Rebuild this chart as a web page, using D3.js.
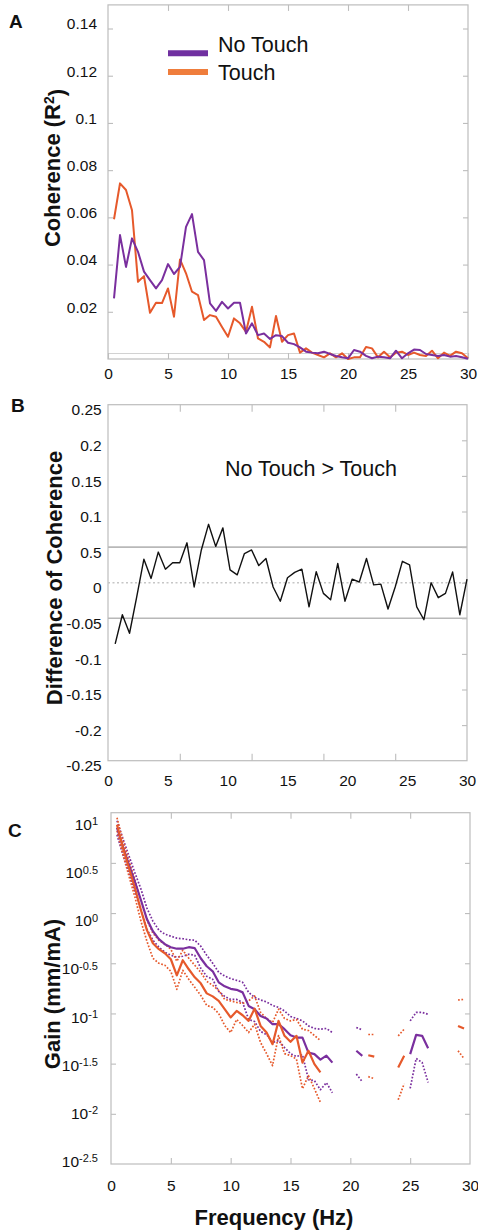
<!DOCTYPE html>
<html>
<head>
<meta charset="utf-8">
<script src="https://cdn.jsdelivr.net/npm/d3@7"></script>
<style>
  body { margin: 0; background: #fff; }
  text { font-family: "Liberation Sans", Arial, Helvetica, sans-serif; fill: #111; }
</style>
</head>
<body>
<svg id="fig" width="478" height="1232"></svg>
<script>
// ---------- data ----------
// Frequency grid (Hz) shared by coherence (A) and gain (C)
const freqHz = [0.5,1,1.5,2,2.5,3,3.5,4,4.5,5,5.5,6,6.5,7,7.5,8,8.5,9,9.5,10,
  10.5,11,11.5,12,12.5,13,13.5,14,14.5,15,15.5,16,16.5,17,17.5,18,18.5,19,19.5,20,
  20.5,21,21.5,22,22.5,23,23.5,24,24.5,25,25.5,26,26.5,27,27.5,28,28.5,29,29.5,30];

// A: coherence (R^2)
const cohNoTouch = [0.0257,0.0525,0.039,0.0511,0.0454,0.037,0.0334,0.0299,0.0334,0.0402,
  0.036,0.039,0.056,0.0614,0.0454,0.0419,0.0236,0.0204,0.0242,0.0214,
  0.0238,0.0238,0.0108,0.0151,0.0101,0.0108,0.0085,0.0101,0.0097,0.0069,
  0.0063,0.0049,0.0031,0.0027,0.0024,0.0031,0.0021,0.0013,0.0007,0.0003,
  0.0038,0.0031,0.0013,0.0003,0.001,0.0007,0.0003,0.0035,0.0003,0.0024,
  0.004,0.0038,0.0021,0.0017,0.0013,0.0017,0.001,0.0013,0.0007,0.0001];
const cohTouch = [0.0592,0.0744,0.0716,0.063,0.0327,0.0351,0.0196,0.0238,0.0237,0.0299,
  0.0179,0.0422,0.0363,0.0285,0.0271,0.0165,0.0186,0.0179,0.0136,0.0094,
  0.0172,0.0151,0.0115,0.0221,0.0087,0.0073,0.0049,0.0182,0.0073,0.0101,
  0.0108,0.0027,0.0045,0.0027,0.0017,0.0007,0.0024,0.0007,0.0024,0.0000,
  0.0007,0.0007,0.0051,0.0045,0.0007,0.0031,0.0007,0.0027,0.0031,0.0017,
  0.0027,0.0017,0.0013,0.0035,0.0003,0.0027,0.0013,0.0031,0.0024,0.0003];
const cohTicks = [0.02,0.04,0.06,0.08,0.1,0.12,0.14];
const freqTicks = [0,5,10,15,20,25,30];

// B: difference of coherence (No Touch - Touch)
const freqDiff = [0.6,1.2,1.8,2.4,3,3.6,4.2,4.8,5.4,6,6.6,7.2,7.8,8.4,9,9.6,10.2,10.8,11.4,12,
  12.6,13.2,13.8,14.4,15,15.6,16.2,16.8,17.4,18,18.6,19.2,19.8,20.4,21,21.6,22.2,22.8,23.4,24,
  24.6,25.2,25.8,26.4,27,27.6,28.2,28.8,29.4,30];
const cohDiff = [-0.086,-0.045,-0.071,-0.02,0.033,0.006,0.043,0.019,0.028,0.028,
  0.056,-0.006,0.046,0.082,0.051,0.077,0.018,0.011,0.041,0.046,
  0.024,0.034,-0.006,-0.026,0.007,0.0145,0.019,-0.034,0.0155,-0.015,
  -0.024,0.027,-0.026,0.005,0.001,0.034,-0.003,-0.002,-0.037,-0.006,
  0.030,0.025,-0.034,-0.052,0.000,-0.021,-0.015,0.015,-0.045,0.005];
const diffTickValues = [0.25,0.2,0.15,0.1,0.05,0,-0.05,-0.1,-0.15,-0.2,-0.25];
const diffTickLabels = ["0.25","0.2","0.15","0.1","0.5","0","-0.05","-0.1","-0.15","-0.2","-0.25"];
const diffFreqMarks = [6,12,18,24];
const diffBand = [-0.05,0.05];

// C: gain, log10(mm/mA); mean with upper/lower bounds, null = no estimate
const noTouchGain = [0.85,0.66,0.48,0.31,0.13,-0.06,-0.18,-0.26,-0.31,-0.34,
  -0.355,-0.355,-0.34,-0.35,-0.45,-0.53,-0.58,-0.69,-0.73,-0.755,
  -0.765,-0.79,-0.925,-0.958,-1.025,-1.05,-1.107,-1.107,-1.157,-1.217,
  -1.24,-1.24,-1.39,-1.405,-1.46,-1.42,-1.49,null,null,null,
  -1.372,-1.422,null,null,null,null,null,null,null,-1.406,
  -1.213,-1.223,-1.346,null,null,null,null,null,null,null];
const noTouchUpper = [0.92,0.74,0.57,0.40,0.24,0.05,-0.08,-0.17,-0.21,-0.23,
  -0.25,-0.256,-0.266,-0.27,-0.33,-0.42,-0.50,-0.59,-0.627,-0.653,
  -0.67,-0.69,-0.79,-0.84,-0.866,-0.885,-0.92,-0.94,-0.975,-1.03,
  -1.05,-1.074,-1.124,-1.15,-1.157,-1.15,-1.19,null,null,null,
  -1.14,-1.164,null,null,null,null,null,null,null,-1.074,
  -0.99,-0.99,-1.008,null,null,null,null,null,null,null];
const noTouchLower = [0.78,0.58,0.40,0.22,0.03,-0.16,-0.27,-0.34,-0.39,-0.42,
  -0.44,-0.43,-0.41,-0.42,-0.55,-0.63,-0.66,-0.78,-0.83,-0.86,
  -0.86,-0.89,-1.06,-1.08,-1.18,-1.21,-1.29,-1.27,-1.34,-1.40,
  -1.43,-1.41,-1.66,-1.67,-1.76,-1.69,-1.79,null,null,null,
  -1.604,-1.68,null,null,null,null,null,null,null,-1.747,
  -1.449,-1.488,-1.687,null,null,null,null,null,null,null];
const touchGain = [0.88,0.65,0.45,0.25,0.03,-0.17,-0.30,-0.36,-0.40,-0.46,
  -0.62,-0.47,-0.56,-0.64,-0.70,-0.80,-0.83,-0.875,-0.958,-1.04,
  -0.975,-1.018,-1.074,-0.952,-1.124,-1.19,-1.306,-1.074,-1.223,-1.283,
  -1.223,-1.49,-1.372,-1.505,-1.587,null,null,null,null,null,
  null,null,-1.416,-1.43,null,null,null,-1.538,-1.422,null,
  null,null,null,null,null,null,null,-1.124,-1.15,null];
const touchUpper = [0.95,0.72,0.52,0.33,0.12,-0.07,-0.20,-0.27,-0.31,-0.36,
  -0.48,-0.37,-0.45,-0.52,-0.59,-0.68,-0.72,-0.77,-0.86,-0.875,
  -0.89,-0.90,-0.875,-0.826,-0.99,-1.05,-1.09,-0.958,-1.05,-1.074,
  -1.06,-1.157,-1.17,-1.22,-1.27,null,null,null,null,null,
  null,null,-1.21,-1.21,null,null,null,-1.223,-1.157,null,
  null,null,null,null,null,null,null,-0.866,-0.86,null];
const touchLower = [0.82,0.58,0.37,0.16,-0.08,-0.28,-0.45,-0.50,-0.52,-0.58,
  -0.76,-0.57,-0.66,-0.74,-0.82,-0.92,-0.94,-1.0,-1.12,-1.19,
  -1.06,-1.12,-1.19,-1.107,-1.29,-1.40,-1.52,-1.22,-1.40,-1.42,
  -1.455,-1.75,-1.62,-1.75,-1.886,null,null,null,null,null,
  null,null,-1.63,-1.65,null,null,null,-1.86,-1.70,null,
  null,null,null,null,null,null,null,-1.372,-1.449,null];
const gainExpTicks = [1,0.5,0,-0.5,-1,-1.5,-2,-2.5];
const gainExpLabels = ["1","0.5","0","-0.5","-1","-1.5","-2","-2.5"];

// ---------- styles ----------
const PURPLE = "#7a2f9e", ORANGE = "#e6592b";
const LEG_PURPLE = "#7030a0", LEG_ORANGE = "#ef7d3c";
const FRAME = "#bdbdbd";
const TICK_FONT = "15.5px", TITLE_FONT = "22px";

const svg = d3.select("#fig");

function drawFrame(x, y) {
  const [x0, x1] = x.range(), [y0, y1] = y.range();
  svg.append("rect")
    .attr("x", x0).attr("y", y1).attr("width", x1 - x0).attr("height", y0 - y1)
    .attr("fill", "none").attr("stroke", FRAME).attr("stroke-width", 1.2);
}
function styleAxis(g) {
  g.select(".domain").remove();
  g.selectAll(".tick line").attr("stroke", FRAME).attr("stroke-width", 1.1);
  g.selectAll(".tick text").attr("fill", "#111").style("font-size", TICK_FONT)
    .style("font-family", '"Liberation Sans", Arial, sans-serif');
}
function panelLetter(label, x, y) {
  svg.append("text").attr("x", x).attr("y", y).text(label)
    .style("font-size", "19px").style("font-weight", "bold");
}
function yTitle(x, y, build) {
  const t = svg.append("text").attr("transform", `translate(${x},${y}) rotate(-90)`)
    .attr("text-anchor", "middle").style("font-size", TITLE_FONT).style("font-weight", "bold");
  build(t);
}

// ---------- A: coherence ----------
const xA = d3.scaleLinear().domain([0, 30]).range([108, 468]);
const yA = d3.scaleLinear().domain([0, 0.15]).range([359, 4.9]);
drawFrame(xA, yA);

// faint floor line along the inner edge of the bottom ticks
svg.append("line").attr("x1", xA(0)).attr("x2", xA(30))
  .attr("y1", yA(0) - 5.5).attr("y2", yA(0) - 5.5)
  .attr("stroke", "#d2d2d2").attr("stroke-width", 1);

svg.append("g").attr("transform", `translate(${xA(0)},0)`)
  .call(d3.axisLeft(yA).tickValues(cohTicks).tickSize(-5).tickPadding(11).tickFormat(d3.format("~g")))
  .call(styleAxis).call(g => g.selectAll(".tick text").attr("dy", "0.02em"));
svg.append("g").attr("transform", `translate(${xA(30)},0)`)
  .call(d3.axisRight(yA).tickValues(cohTicks).tickSize(-5).tickFormat(""))
  .call(styleAxis);
svg.append("g").attr("transform", `translate(0,${yA(0.15)})`)
  .call(d3.axisTop(xA).tickValues(freqTicks.slice(1, -1)).tickSize(-6).tickFormat(""))
  .call(styleAxis);
svg.append("g").attr("transform", `translate(0,${yA(0)})`)
  .call(d3.axisBottom(xA).tickValues(freqTicks).tickSize(-6).tickPadding(9).tickFormat(d3.format("d")))
  .call(styleAxis);

const lineA = d3.line().x((d, i) => xA(freqHz[i])).y(d => yA(d));
svg.append("path").datum(cohTouch).attr("d", lineA)
  .attr("fill", "none").attr("stroke", ORANGE).attr("stroke-width", 2).attr("stroke-linejoin", "round");
svg.append("path").datum(cohNoTouch).attr("d", lineA)
  .attr("fill", "none").attr("stroke", PURPLE).attr("stroke-width", 2).attr("stroke-linejoin", "round");

// legend
const legend = [
  { name: "No Touch", color: LEG_PURPLE, sy: 53.3, ty: 51.7 },
  { name: "Touch", color: LEG_ORANGE, sy: 72, ty: 79.5 }
];
const lg = svg.append("g");
lg.selectAll("line").data(legend).join("line")
  .attr("x1", 168).attr("x2", 208).attr("y1", d => d.sy).attr("y2", d => d.sy)
  .attr("stroke", d => d.color).attr("stroke-width", 6);
lg.selectAll("text").data(legend).join("text")
  .attr("x", 218).attr("y", d => d.ty).text(d => d.name).style("font-size", "21.5px");

panelLetter("A", 9, 28);
yTitle(60, 168, t => {
  t.append("tspan").text("Coherence (R");
  t.append("tspan").text("2").attr("dy", "-0.45em").style("font-size", "14px");
  t.append("tspan").text(")").attr("dy", "0.45em");
});

// ---------- B: difference of coherence ----------
const xB = d3.scaleLinear().domain([0, 30]).range([108, 467]);
const yB = d3.scaleLinear().domain([-0.25, 0.25]).range([760.7, 404.7]);
drawFrame(xB, yB);

svg.append("g").selectAll("line").data(diffBand).join("line")
  .attr("x1", xB(0)).attr("x2", xB(30)).attr("y1", d => yB(d)).attr("y2", d => yB(d))
  .attr("stroke", "#b8b8b8").attr("stroke-width", 1.6);
svg.append("line").attr("x1", xB(0)).attr("x2", xB(30)).attr("y1", yB(0)).attr("y2", yB(0))
  .attr("stroke", "#c6c6c6").attr("stroke-width", 1.6).attr("stroke-dasharray", "2,2.5");

svg.append("g").attr("transform", `translate(${xB(0)},0)`)
  .call(d3.axisLeft(yB).tickValues(diffTickValues).tickSize(0).tickPadding(6.3)
    .tickFormat((d, i) => diffTickLabels[i]))
  .call(styleAxis).call(g => g.selectAll(".tick text").attr("dy", "0.66em"));
svg.append("g").attr("transform", `translate(${xB(30)},0)`)
  .call(d3.axisRight(yB).tickValues(diffTickValues.slice(1, -1)).tickSize(-5).tickFormat(""))
  .call(styleAxis);
svg.append("g").attr("transform", `translate(0,${yB(0.25)})`)
  .call(d3.axisTop(xB).tickValues(diffFreqMarks).tickSize(-7).tickFormat(""))
  .call(styleAxis);
svg.append("g").attr("transform", `translate(0,${yB(-0.25)})`)
  .call(d3.axisBottom(xB).tickValues(diffFreqMarks).tickSize(-7).tickFormat(""))
  .call(styleAxis);
svg.append("g").attr("transform", `translate(0,${yB(-0.25)})`)
  .call(d3.axisBottom(xB).tickValues(freqTicks).tickSize(0).tickPadding(14).tickFormat(d3.format("d")))
  .call(styleAxis);

const lineB = d3.line().x((d, i) => xB(freqDiff[i])).y(d => yB(d));
svg.append("path").datum(cohDiff).attr("d", lineB)
  .attr("fill", "none").attr("stroke", "#111").attr("stroke-width", 1.4).attr("stroke-linejoin", "round");

svg.append("text").attr("x", 311).attr("y", 476).attr("text-anchor", "middle")
  .text("No Touch > Touch").style("font-size", "21.5px");

panelLetter("B", 11, 412);
yTitle(62, 578, t => t.text("Difference of Coherence"));

// ---------- C: gain ----------
const xC = d3.scaleLinear().domain([0, 30]).range([111, 470]);
const yC = d3.scaleLog().domain([Math.pow(10, -2.5), 10]).range([1164, 812.7]);
// exponent labels sit on a slightly tighter ladder than the ticks
const yCLabel = d3.scaleLinear().domain([1, -2.5]).range([830, 1167]);
drawFrame(xC, yC);

const gainTickVals = gainExpTicks.map(e => Math.pow(10, e));
svg.append("g").attr("transform", `translate(${xC(0)},0)`)
  .call(d3.axisLeft(yC).tickValues(gainTickVals.slice(1, -1)).tickSize(-5).tickFormat(""))
  .call(styleAxis);
svg.append("g").attr("transform", `translate(${xC(30)},0)`)
  .call(d3.axisRight(yC).tickValues(gainTickVals.slice(1, -1)).tickSize(-5).tickFormat(""))
  .call(styleAxis);
svg.append("g").attr("transform", `translate(0,${yC.range()[1]})`)
  .call(d3.axisTop(xC).tickValues(freqTicks.slice(1, -1)).tickSize(-6).tickFormat(""))
  .call(styleAxis);
svg.append("g").attr("transform", `translate(0,${yC.range()[0]})`)
  .call(d3.axisBottom(xC).tickValues(freqTicks.slice(1, -1)).tickSize(-6).tickFormat(""))
  .call(styleAxis);
svg.append("g").attr("transform", `translate(0,${yC.range()[0]})`)
  .call(d3.axisBottom(xC).tickValues(freqTicks).tickSize(0).tickPadding(16).tickFormat(d3.format("d")))
  .call(styleAxis);

const expLabels = svg.append("g").selectAll("text").data(gainExpTicks).join("text")
  .attr("x", 98).attr("y", d => yCLabel(d)).attr("text-anchor", "end")
  .style("font-size", TICK_FONT);
expLabels.append("tspan").text("10");
expLabels.append("tspan").text((d, i) => gainExpLabels[i])
  .attr("dy", "-0.42em").style("font-size", "11px");

const lineC = d3.line()
  .defined(d => d !== null)
  .x((d, i) => xC(freqHz[i]))
  .y(d => yC(Math.pow(10, d)));

const gainSeries = [
  { values: noTouchUpper, color: PURPLE, dotted: true },
  { values: noTouchLower, color: PURPLE, dotted: true },
  { values: touchUpper, color: ORANGE, dotted: true },
  { values: touchLower, color: ORANGE, dotted: true },
  { values: noTouchGain, color: PURPLE, dotted: false },
  { values: touchGain, color: ORANGE, dotted: false }
];
svg.append("g").selectAll("path").data(gainSeries).join("path")
  .attr("d", d => lineC(d.values))
  .attr("fill", "none")
  .attr("stroke", d => d.color)
  .attr("stroke-width", d => d.dotted ? 1.7 : 2.2)
  .attr("stroke-dasharray", d => d.dotted ? "1.7,1.7" : null)
  .attr("stroke-linejoin", "round");

panelLetter("C", 8, 837);
yTitle(60, 994, t => t.text("Gain (mm/mA)"));
svg.append("text").attr("x", 274).attr("y", 1225).attr("text-anchor", "middle")
  .text("Frequency (Hz)").style("font-size", TITLE_FONT).style("font-weight", "bold");
</script>
</body>
</html>
